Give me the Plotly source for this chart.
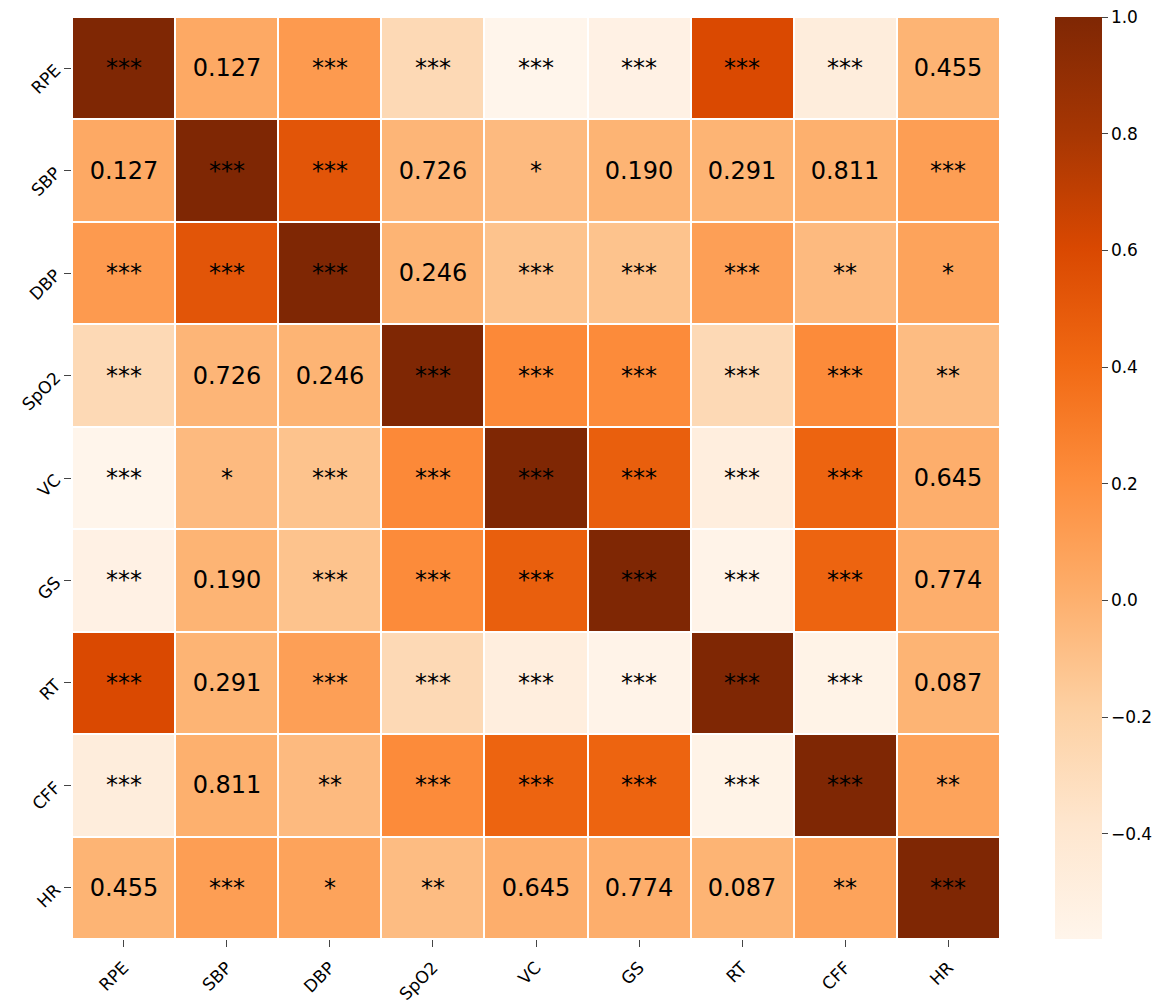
import plotly.graph_objects as go

# Переменные
labels = ["RPE", "SBP", "DBP", "SpO2", "VC", "GS", "RT", "CFF", "HR"]

# Коэффициенты корреляции (оценка по цвету)
corr_rpe = [1.00, 0.04, 0.13, -0.27, -0.58, -0.53, 0.60, -0.48, -0.02]
corr_sbp = [0.04, 1.00, 0.53, -0.03, -0.06, -0.02, -0.02, 0.00, 0.11]
corr_dbp = [0.13, 0.53, 1.00, -0.02, -0.11, -0.11, 0.10, -0.06, 0.08]
corr_spo2 = [-0.27, -0.03, -0.02, 1.00, 0.23, 0.22, -0.27, 0.22, -0.07]
corr_vc = [-0.58, -0.06, -0.11, 0.23, 1.00, 0.47, -0.49, 0.44, 0.01]
corr_gs = [-0.53, -0.02, -0.11, 0.22, 0.47, 1.00, -0.56, 0.44, 0.01]
corr_rt = [0.60, -0.02, 0.10, -0.27, -0.49, -0.56, 1.00, -0.55, -0.02]
corr_cff = [-0.48, 0.00, -0.06, 0.22, 0.44, 0.44, -0.55, 1.00, 0.08]
corr_hr = [-0.02, 0.11, 0.08, -0.07, 0.01, 0.01, -0.02, 0.08, 1.00]

# Подписи: звездочки или p-value
sig_rpe = ["***", "0.127", "***", "***", "***", "***", "***", "***", "0.455"]
sig_sbp = ["0.127", "***", "***", "0.726", "*", "0.190", "0.291", "0.811", "***"]
sig_dbp = ["***", "***", "***", "0.246", "***", "***", "***", "**", "*"]
sig_spo2 = ["***", "0.726", "0.246", "***", "***", "***", "***", "***", "**"]
sig_vc = ["***", "*", "***", "***", "***", "***", "***", "***", "0.645"]
sig_gs = ["***", "0.190", "***", "***", "***", "***", "***", "***", "0.774"]
sig_rt = ["***", "0.291", "***", "***", "***", "***", "***", "***", "0.087"]
sig_cff = ["***", "0.811", "**", "***", "***", "***", "***", "***", "**"]
sig_hr = ["0.455", "***", "*", "**", "0.645", "0.774", "0.087", "**", "***"]

cbar_vals = [-0.4, -0.2, 0.0, 0.2, 0.4, 0.6, 0.8, 1.0]
cbar_text = ["\u22120.4", "\u22120.2", "0.0", "0.2", "0.4", "0.6", "0.8", "1.0"]

z = [corr_rpe, corr_sbp, corr_dbp, corr_spo2, corr_vc, corr_gs, corr_rt, corr_cff, corr_hr]
text = [sig_rpe, sig_sbp, sig_dbp, sig_spo2, sig_vc, sig_gs, sig_rt, sig_cff, sig_hr]

fig = go.Figure()

fig.add_trace(
    go.Heatmap(
        z=z,
        x=labels,
        y=labels,
        text=text,
        texttemplate="%{text}",
        textfont=dict(size=24, color="black", family="DejaVu Sans"),
        colorscale="Oranges",
        zmin=-0.58,
        zmax=1.0,
        xgap=2,
        ygap=2,
        hoverinfo="skip",
        colorbar=dict(
            x=1.0593,
            xanchor="left",
            y=0.5,
            yanchor="middle",
            len=1.0,
            lenmode="fraction",
            thickness=47,
            xpad=0,
            ypad=0,
            outlinewidth=0,
            ticks="outside",
            ticklen=6,
            tickwidth=1,
            tickvals=cbar_vals,
            ticktext=cbar_text,
            ticklabeloverflow="allow",
            tickfont=dict(size=17, color="black", family="DejaVu Sans"),
        ),
    ))

# Страница открывается с отступом body 8px, поэтому поля сдвинуты
fig.update_layout(width=1170,
                  height=1008,
                  margin=dict(l=64, r=178, t=9, b=77),
                  plot_bgcolor="white",
                  paper_bgcolor="white",
                  font=dict(family="DejaVu Sans", color="black"))

fig.update_xaxes(tickangle=-45,
                 ticks="outside",
                 ticklen=7,
                 ticklabelstandoff=4,
                 tickfont=dict(size=17),
                 automargin=False,
                 showgrid=False,
                 zeroline=False)
fig.update_yaxes(tickangle=-45,
                 ticks="outside",
                 ticklen=7,
                 ticklabelstandoff=5,
                 tickfont=dict(size=17),
                 automargin=False,
                 autorange="reversed",
                 showgrid=False,
                 zeroline=False)

fig.write_html("out.html")
